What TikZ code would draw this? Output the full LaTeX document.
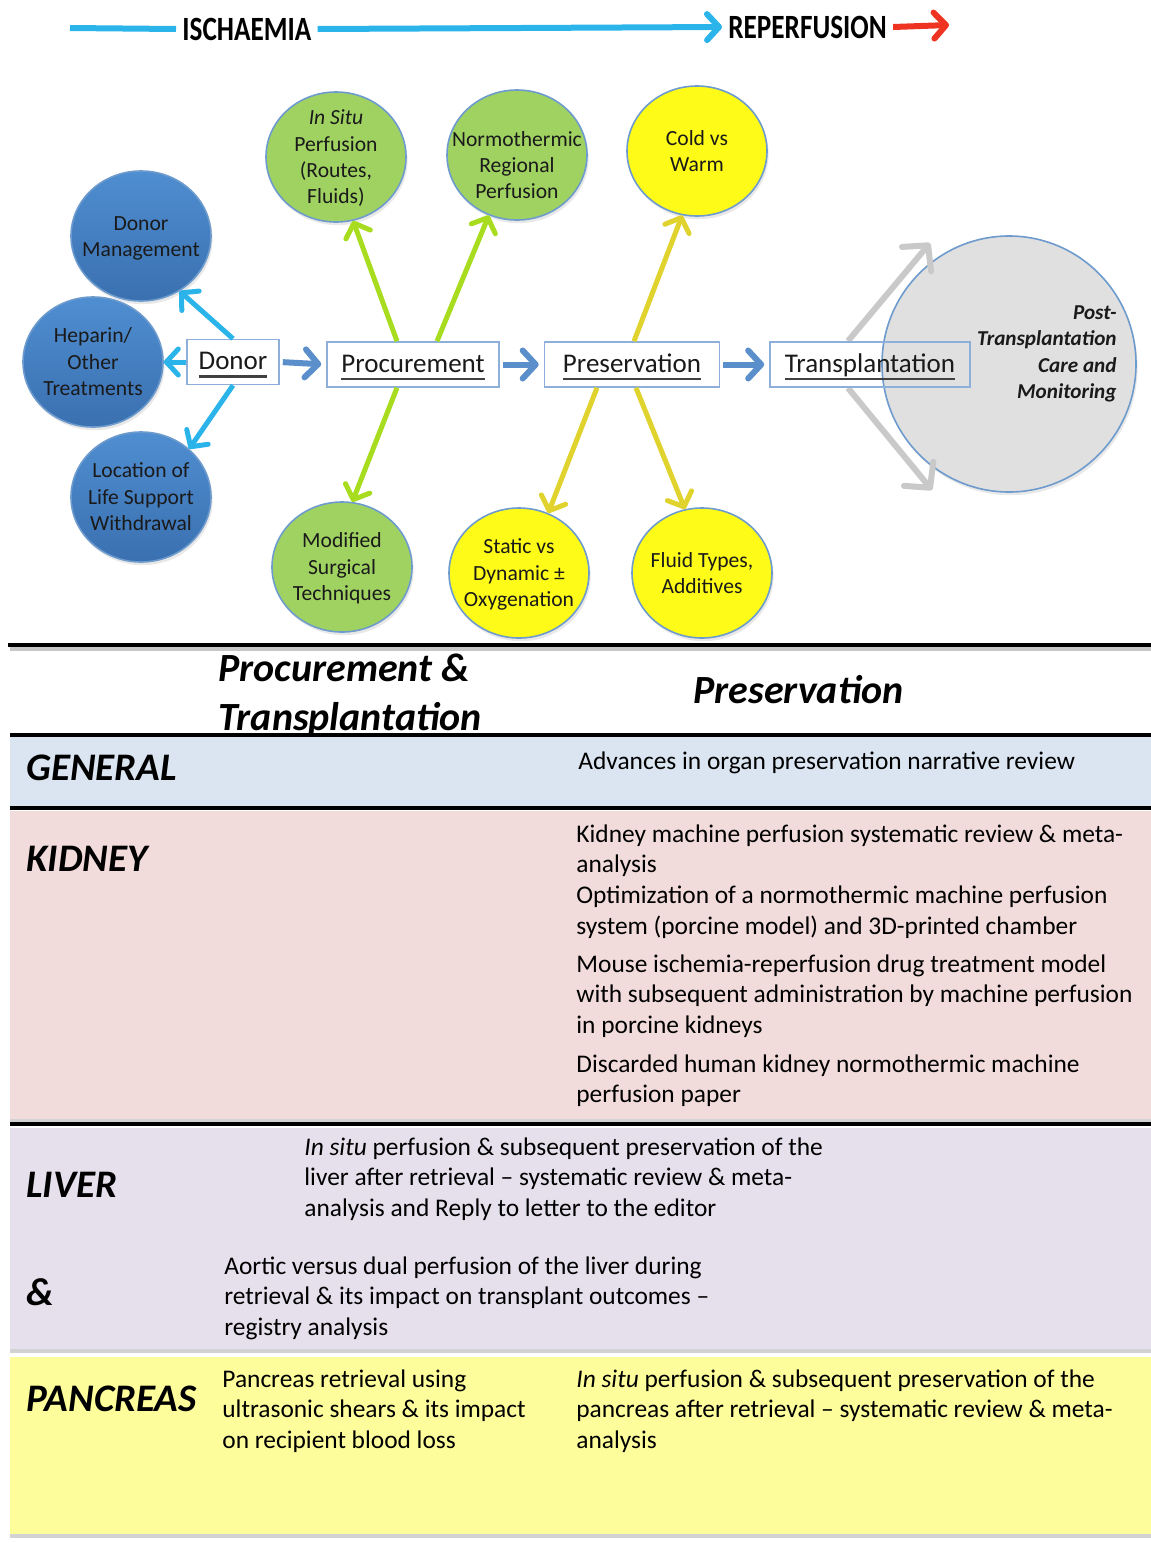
\documentclass[tikz,border=0pt]{standalone}
\usepackage{fontspec}
\setmainfont{Carlito}
\newfontfamily\narrowfont[FakeStretch=0.8]{Carlito}
\usetikzlibrary{arrows.meta,shapes.geometric,shadows}

\definecolor{txt}{HTML}{1A1A1A}
\definecolor{cyanarrow}{HTML}{2BB4EA}
\definecolor{redarrow}{HTML}{EE3322}
\definecolor{stagearrow}{HTML}{5A8FCB}
\definecolor{limearrow}{HTML}{A8DC1E}
\definecolor{mustard}{HTML}{E0D32E}
\definecolor{greyarrow}{HTML}{C9C9C9}
\definecolor{bluetop}{HTML}{4F8ED1}
\definecolor{bluebot}{HTML}{3A70B0}
\definecolor{bubgreen}{HTML}{A0D262}
\definecolor{bubyellow}{HTML}{FEFB18}
\definecolor{bubgrey}{HTML}{E0E0E0}
\definecolor{bubedge}{HTML}{6E9BCD}
\definecolor{boxedge}{HTML}{8DAFDA}
\definecolor{ulgrey}{HTML}{404040}
\definecolor{genfill}{HTML}{DBE5F1}
\definecolor{kidfill}{HTML}{F2DCDB}
\definecolor{livfill}{HTML}{E5E0EC}
\definecolor{panfill}{HTML}{FEFD9B}

\newcommand\setfs[2]{\fontsize{#1}{#2}\selectfont}
% underlined stage name; the rule takes no vertical room
\newcommand\stageline[1]{\setbox0\hbox{#1}\rlap{\copy0}\smash{\textcolor{ulgrey}{\rule[-4.2pt]{\wd0}{1.4pt}}}}
% circle label of no size, so the ellipse keeps its own size
\newcommand\bubbody[1]{\makebox[0pt]{\smash{\raisebox{-3.7pt}{\begin{tabular}{@{}c@{}}#1\end{tabular}}}}}

\tikzset{
  bub/.style={ellipse, draw=bubedge, line width=0.8pt, minimum width=70pt,
    minimum height=65pt, inner sep=0pt, text=txt,
    font=\setfs{10.8}{13.2},
    drop shadow={opacity=0.18, shadow xshift=0.8pt, shadow yshift=-1.6pt}},
  bluebub/.style={bub, top color=bluetop, bottom color=bluebot},
  greenbub/.style={bub, fill=bubgreen},
  yellowbub/.style={bub, fill=bubyellow},
  greybub/.style={bub, fill=bubgrey, minimum width=127pt, minimum height=128pt},
  bubtext/.style={align=center, text=txt, inner sep=0pt, font=\setfs{10.8}{13.2}},
  posttext/.style={align=right, text=txt, inner sep=0pt,
    font=\setfs{10.6}{13.3}\bfseries\itshape},
  stagebox/.style={draw=boxedge, line width=0.8pt, minimum height=22.5pt,
    inner sep=0pt, text height=10pt, text depth=2.5pt, text=txt, font=\setfs{13.5}{16}},
  toplabel/.style={inner xsep=3pt, inner ysep=0pt, text=black,
    font=\narrowfont\setfs{17}{20}\bfseries},
  cyanarr/.style={draw=cyanarrow, line width=2.5pt,
    -{Straight Barb[length=6pt,width=13pt,round]}},
  limearr/.style={cyanarr, draw=limearrow},
  mustardarr/.style={cyanarr, draw=mustard},
  stagearr/.style={draw=stagearrow, line width=3pt, shorten <=1.5pt, shorten >=2.5pt,
    -{Straight Barb[length=6.5pt,width=14pt,round]}},
  greyarr/.style={draw=greyarrow, line width=3pt,
    -{Straight Barb[length=9pt,width=19pt,round]}},
  hdr/.style={inner sep=0pt, text=black, font=\setfs{20}{24}\bfseries\itshape},
  rowlabel/.style={inner sep=0pt, text=black, font=\setfs{19.5}{23}\bfseries\itshape},
  bodytext/.style={inner sep=0pt, anchor=north west, align=left, text=black,
    font=\setfs{12.7}{15.4}},
  band/.style={drop shadow={opacity=0.35, shadow xshift=0pt, shadow yshift=-2pt}},
  tablerule/.style={line width=1.6pt, black},
}

\begin{document}
\begin{tikzpicture}[x=0.5pt,y=-0.5pt]
\useasboundingbox (0,0) rectangle (1151,1543);
\fill[white] (0,0) rectangle (1151,1543);

% ---- timeline along the top ----
\coordinate (tlstart) at (70,28);
\node[toplabel, anchor=west] (isch) at (176,29) {ISCHAEMIA};
\node[toplabel, anchor=west] (reperf) at (722,27) {REPERFUSION};
\coordinate (redend) at (949,25);
\draw[draw=cyanarrow, line width=3pt] (tlstart) -- (isch.west);
\draw[draw=cyanarrow, line width=3pt,
  -{Straight Barb[length=6pt,width=13pt,round]}] (isch.east) -- (reperf.west);
\draw[draw=redarrow, line width=3pt,
  -{Straight Barb[length=6pt,width=13pt,round]}] (reperf.east) -- (redend);

% ---- grey outcome circle (behind the transplantation box) ----
\node[greybub] (post) at (1009,364) {};
\node[posttext, anchor=east] (postlabel) at (1117,354)
  {Post-\\Transplantation\\Care and\\Monitoring};

% ---- topic circles ----
\node[bluebub] (dmgmt) at (141,236) {\bubbody{Donor\\Management}};
\node[bluebub] (hep) at (93,362) {\bubbody{Heparin/\\Other\\Treatments}};
\node[bluebub] (loc) at (141,497) {\bubbody{Location of\\Life Support\\Withdrawal}};
\node[greenbub] (insitu) at (336,157) {\bubbody{\textit{In Situ}\\Perfusion\\(Routes,\\Fluids)}};
\node[greenbub] (nrp) at (517,155) {};
\node[bubtext] (nrplabel) at (517,165) {Normothermic\\Regional\\Perfusion};
\node[greenbub] (modsurg) at (342,567) {\bubbody{Modified\\Surgical\\Techniques}};
\node[yellowbub] (coldwarm) at (697,151) {\bubbody{Cold vs\\Warm}};
\node[yellowbub] (static) at (519,573) {\bubbody{Static vs\\Dynamic ±\\Oxygenation}};
\node[yellowbub] (fluid) at (702,573) {\bubbody{Fluid Types,\\Additives}};

% ---- stage boxes ----
\node[stagebox, fill=white, minimum width=46pt] (donor) at (233,362) {\stageline{Donor}};
\node[stagebox, fill=white, minimum width=86pt] (proc) at (413,364.5) {\stageline{Procurement}};
\node[stagebox, fill=white, minimum width=87.5pt] (pres) at (632,364.5) {\stageline{Preservation}};

% ---- grey arrows leaving transplantation ----
\coordinate (gup) at (930,243);
\coordinate (gdown) at (932,490);
\draw[greyarr] (848,341) -- (gup);
\draw[greyarr] (848,388) -- (gdown);
\node[stagebox, minimum width=100pt] (trans) at (870,364.5) {\stageline{Transplantation}};

% ---- flow between stages ----
\draw[stagearr] (donor.east) -- (proc.west);
\draw[stagearr] (proc.east) -- (pres.west);
\draw[stagearr] (pres.east) -- (trans.west);

% ---- donor topics ----
\draw[cyanarr] (donor.north) -- (dmgmt.-55);
\draw[cyanarr] (donor.west) -- (hep.east);
\draw[cyanarr] (donor.south) -- (loc.45);

% ---- procurement topics ----
\draw[limearr] ([xshift=-8pt]proc.north) -- (insitu.-75);
\draw[limearr] ([xshift=12pt]proc.north) -- (nrp.-115);
\draw[limearr] ([xshift=-8pt]proc.south) -- (modsurg.81);

% ---- preservation topics ----
\draw[mustardarr] ([xshift=1pt]pres.north) -- (coldwarm.-103);
\draw[mustardarr] ([xshift=-17.5pt]pres.south) -- (static.64);
\draw[mustardarr] ([xshift=2pt]pres.south) -- (fluid.105);

% ---- table of studies ----
\path[band, fill=genfill] (10,737) rectangle (1151,806);
\path[band, fill=kidfill] (10,811) rectangle (1151,1119);
\path[band, fill=livfill] (10,1128) rectangle (1151,1349);
\path[band, fill=panfill] (10,1357) rectangle (1151,1534);

\draw[line width=2pt, black!22] (10,649) -- (1151,649);
\draw[tablerule] (8,645) -- (1151,645);
\draw[tablerule] (10,735) -- (1151,735);
\draw[tablerule] (10,808) -- (1151,808);
\draw[tablerule] (10,1124) -- (1151,1124);

\node[hdr, anchor=base west] (hproc) at (218,681) {Procurement \&};
\node[hdr, anchor=base west] (htrans) at (218,730) {Transplantation};
\node[hdr, anchor=base west] (hpres) at (693,703) {Preservation};

\node[rowlabel, anchor=base west] (rgen) at (26,780) {GENERAL};
\node[rowlabel, anchor=base west] (rkid) at (26,871) {KIDNEY};
\node[rowlabel, anchor=base west] (rliv) at (26,1197) {LIVER};
\node[rowlabel, anchor=base west] (ramp) at (26,1305) {\&};
\node[rowlabel, anchor=base west] (rpan) at (26,1411) {PANCREAS};

\node[bodytext] (gen1) at (578,751) {Advances in organ preservation narrative review};

\node[bodytext] (kid1) at (576,824) {Kidney machine perfusion systematic review \& meta-\\analysis\\
  Optimization of a normothermic machine perfusion\\system (porcine model) and 3D-printed chamber};
\node[bodytext] (kid2) at (576,954) {Mouse ischemia-reperfusion drug treatment model\\
  with subsequent administration by machine perfusion\\in porcine kidneys};
\node[bodytext] (kid3) at (576,1054) {Discarded human kidney normothermic machine\\perfusion paper};

\node[bodytext] (liv1) at (304,1137) {\textit{In situ} perfusion \& subsequent preservation of the\\
  liver after retrieval – systematic review \& meta-\\analysis and Reply to letter to the editor};
\node[bodytext] (liv2) at (224,1256) {Aortic versus dual perfusion of the liver during\\
  retrieval \& its impact on transplant outcomes –\\registry analysis};

\node[bodytext] (pan1) at (222,1369) {Pancreas retrieval using\\ultrasonic shears \& its impact\\on recipient blood loss};
\node[bodytext] (pan2) at (576,1369) {\textit{In situ} perfusion \& subsequent preservation of the\\
  pancreas after retrieval – systematic review \& meta-\\analysis};
\end{tikzpicture}
\end{document}
